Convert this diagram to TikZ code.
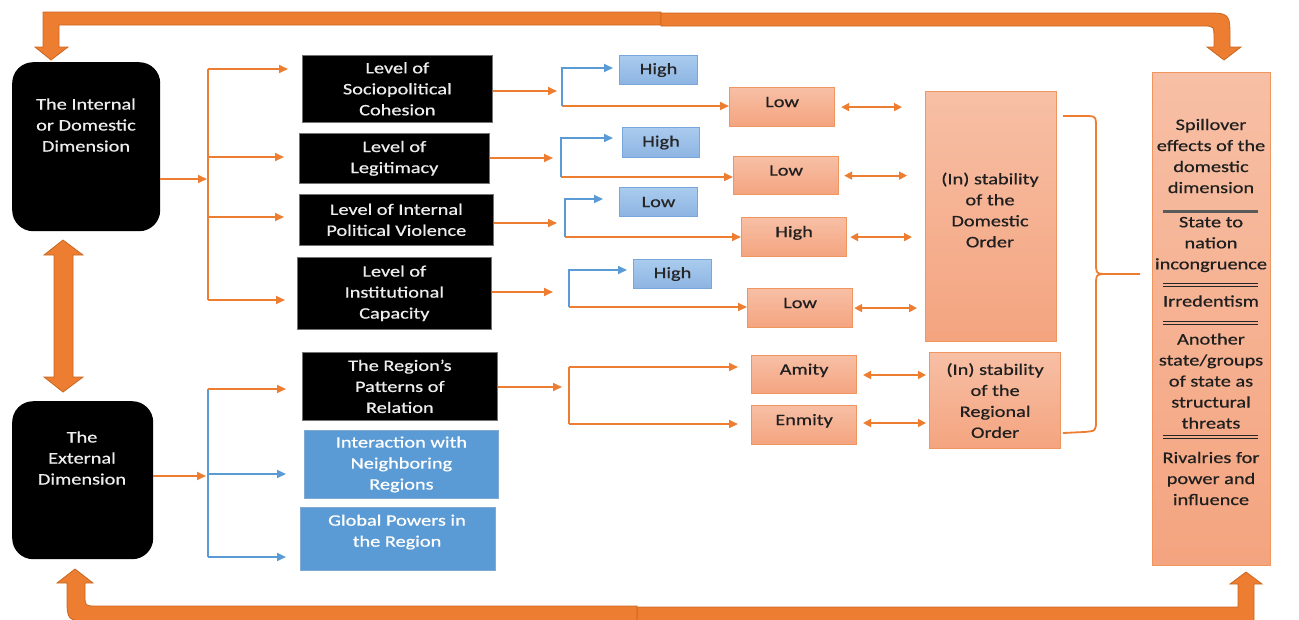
\documentclass[tikz,border=0pt]{standalone}
\usepackage{fontspec}
\setmainfont{Carlito}[FakeStretch=1.27,FakeBold=0.6]
\usetikzlibrary{arrows.meta,calc}
\definecolor{org}{HTML}{ED7D31}
\definecolor{orgD}{HTML}{C9671F}
\definecolor{blu}{HTML}{5B9BD5}
\definecolor{bluD}{HTML}{4A86C0}
\definecolor{obTop}{HTML}{F7BFA5}
\definecolor{obBot}{HTML}{F4A47F}
\definecolor{obLine}{HTML}{F0955E}
\definecolor{lbTop}{HTML}{AACBEE}
\definecolor{lbBot}{HTML}{8CB4E2}
\definecolor{lbLine}{HTML}{79A7DC}
\definecolor{wtxt}{HTML}{EDEDED}
\definecolor{sepgray}{HTML}{5A5A5A}
\begin{document}
\begin{tikzpicture}[x=1pt,y=-1pt,
  font=\fontsize{16}{21}\selectfont,
  blk/.style={draw=black!55, line width=0.7pt, fill=black, text=wtxt, align=center, inner sep=0pt, anchor=north west},
  dimbox/.style={fill=black, rounded corners=21pt, anchor=north west, inner sep=0pt},
  wtext/.style={text=wtxt, align=center, inner sep=0pt},
  dtext/.style={text=black!88, align=center, inner sep=0pt},
  obox/.style={draw=obLine, line width=1.2pt, top color=obTop, bottom color=obBot, text=black!88, align=center, anchor=north west, inner sep=0pt},
  smallo/.style={obox, text height=9pt, text depth=9pt},
  lbox/.style={draw=lbLine, line width=1pt, top color=lbTop, bottom color=lbBot, text=black!85, anchor=north west, inner sep=0pt},
  bbox/.style={draw=bluD!70, line width=0.8pt, fill=blu, text=white, align=center, anchor=north west, inner sep=0pt},
  oline/.style={draw=org, line width=1.8pt},
  bline/.style={draw=blu, line width=1.8pt},
  oarr/.style={oline, -{Triangle[length=9pt,width=8pt]}},
  barr/.style={bline, -{Triangle[length=9pt,width=8pt]}},
  odbl/.style={oline, {Triangle[length=8pt,width=8pt]}-{Triangle[length=8pt,width=8pt]}},
  thickarrow/.style={fill=org, draw=orgD, line width=0.8pt, line join=miter},
  sepline/.style={draw=black!85, line width=1pt}
]
\useasboundingbox (0,0) rectangle (1299,619);

% ---------- dimension boxes ----------
\node[dimbox, minimum width=148pt, minimum height=169pt] (int) at (12,62) {};
\node[wtext] (intt) at (86,125) {The Internal\\or Domestic\\Dimension};
\node[dimbox, minimum width=141pt, minimum height=158pt] (ext) at (12,401) {};
\node[wtext] (extt) at (82,458) {The\\External\\Dimension};

% ---------- level boxes ----------
\node[blk, minimum width=190pt, minimum height=67pt] (l1) at (302,55) {Level of\\Sociopolitical\\Cohesion};
\node[blk, minimum width=190pt, minimum height=50pt] (l2) at (299,133) {Level of\\Legitimacy};
\node[blk, minimum width=194pt, minimum height=51pt] (l3) at (299,194) {Level of Internal\\Political Violence};
\node[blk, minimum width=194pt, minimum height=72pt] (l4) at (297,257) {Level of\\Institutional\\Capacity};
\node[blk, minimum width=195pt, minimum height=68pt] (rp) at (302,352) {The Region’s\\Patterns of\\Relation};
\node[bbox, minimum width=194pt, minimum height=68pt] (nb) at (304,430) {Interaction with\\Neighboring\\Regions};
\node[bbox, minimum width=195pt, minimum height=63pt] (gp) at (300,507) {};
\node[wtext, text=white] (gpt) at (397,532) {Global Powers in\\the Region};

% ---------- high / low boxes ----------
\node[lbox, minimum width=78pt, minimum height=29pt] (h1) at (619,55) {High};
\node[lbox, minimum width=77pt, minimum height=30pt] (h2) at (622,127) {High};
\node[lbox, minimum width=78pt, minimum height=29pt] (h3) at (619,187) {Low};
\node[lbox, minimum width=78pt, minimum height=29pt] (h4) at (633,259) {High};

\node[smallo, minimum width=105pt, minimum height=39pt] (o1) at (729,87) {Low};
\node[smallo, minimum width=105pt, minimum height=38pt] (o2) at (733,156) {Low};
\node[smallo, minimum width=105pt, minimum height=39pt] (o3) at (741,217) {High};
\node[smallo, minimum width=105pt, minimum height=39pt] (o4) at (747,288) {Low};
\node[smallo, minimum width=105pt, minimum height=38pt] (am) at (751,355) {Amity};
\node[smallo, minimum width=105pt, minimum height=39pt] (en) at (751,405) {Enmity};

% ---------- order boxes ----------
\node[obox, minimum width=131pt, minimum height=250pt] (dom) at (925,91) {};
\node[dtext] (domt) at (990,210) {(In) stability\\of the\\Domestic\\Order};
\node[obox, minimum width=131pt, minimum height=96pt] (reg) at (929,352) {(In) stability\\of the\\Regional\\Order};

% ---------- spillover box ----------
\node[obox, minimum width=118pt, minimum height=493pt] (sp) at (1152,72) {};
\node[dtext] (s1) at (1211,156) {Spillover\\effects of the\\domestic\\dimension};
\node[dtext] (s2) at (1211,244.5) {State to\\nation\\incongruence};
\node[dtext] (s3) at (1211,301) {Irredentism};
\node[dtext] (s4) at (1211,381) {Another\\state/groups\\of state as\\structural\\threats};
\node[dtext] (s5) at (1211,478.5) {Rivalries for\\power and\\influence};
\draw[draw=sepgray, line width=3pt] (1163,211) -- (1258,211);
\draw[sepline] (1163,283.5) -- (1258,283.5);
\draw[sepline] (1163,286.5) -- (1258,286.5);
\draw[sepline, line width=1.4pt] (1163,321.5) -- (1258,321.5);
\draw[sepline] (1163,324.5) -- (1258,324.5);
\draw[sepline, line width=1.4pt] (1163,435.5) -- (1258,435.5);
\draw[sepline, line width=1.4pt] (1163,438.5) -- (1258,438.5);

% ---------- internal branch ----------
\coordinate (ibm) at (207,179);
\coordinate (ibt) at (208,69);
\coordinate (ibb) at (208,300);
\coordinate (ib2) at (208,157);
\coordinate (ib3) at (208,217);
\draw[oarr] (int.east |- ibm) -- (ibm);
\draw[oline] (ibt) -- (ibb);
\draw[oarr, shorten >=14pt] (ibt) -- (l1.west |- ibt);
\draw[oarr, shorten >=15pt] (ib2) -- (l2.west |- ib2);
\draw[oarr, shorten >=15pt] (ib3) -- (l3.west |- ib3);
\draw[oarr, shorten >=12pt] (ibb) -- (l4.west |- ibb);

% ---------- level -> high/low ----------
\coordinate (b1m) at (557,91);  \coordinate (b1t) at (562,68);  \coordinate (b1b) at (562,106);
\coordinate (b2m) at (553,158); \coordinate (b2t) at (561,138); \coordinate (b2b) at (561,177);
\coordinate (b3m) at (557,223); \coordinate (b3t) at (565,199); \coordinate (b3b) at (565,237);
\coordinate (b4m) at (553,292); \coordinate (b4t) at (569,270); \coordinate (b4b) at (569,307);

\draw[oarr] (l1.east |- b1m) -- (b1m);
\draw[oarr] (l2.east |- b2m) -- (b2m);
\draw[oarr] (l3.east |- b3m) -- (b3m);
\draw[oarr] (l4.east |- b4m) -- (b4m);

\draw[oarr] (b1b) -- (o1.west |- b1b);
\draw[oarr] (b2b) -- (o2.west |- b2b);
\draw[oarr] (b3b) -- (o3.west |- b3b);
\draw[oarr] (b4b) -- (o4.west |- b4b);

\draw[barr, shorten >=6pt] (b1b) -- (b1t) -- (h1.west |- b1t);
\draw[barr, shorten >=9pt] (b2b) -- (b2t) -- (h2.west |- b2t);
\draw[barr, shorten >=16pt] (b3b) -- (b3t) -- (h3.west |- b3t);
\draw[barr, shorten >=6pt] (b4b) -- (b4t) -- (h4.west |- b4t);

\draw[odbl, shorten <=6pt, shorten >=23pt] (o1.east) -- (dom.west |- o1.east);
\draw[odbl, shorten <=5pt, shorten >=18pt] (o2.east) -- (dom.west |- o2.east);
\draw[odbl, shorten <=3pt, shorten >=13pt] (o3.east) -- (dom.west |- o3.east);
\draw[odbl, shorten <=1pt, shorten >=8pt] (o4.east) -- (dom.west |- o4.east);

% ---------- external branch ----------
\coordinate (ebm) at (206,476);
\coordinate (ebt) at (208,389);
\coordinate (ebn) at (208,474);
\coordinate (ebb) at (208,557);
\draw[oarr] (ext.east |- ebm) -- (ebm);
\draw[bline] (ebt) -- (ebb);
\draw[oarr, shorten >=16pt] (ebt) -- (rp.west |- ebt);
\draw[barr, shorten >=18pt] (ebn) -- (nb.west |- ebn);
\draw[barr, shorten >=14pt] (ebb) -- (gp.west |- ebb);

% ---------- regional branch ----------
\coordinate (rbm) at (562,387);
\coordinate (rbt) at (569,367);
\coordinate (rbb) at (569,424);
\draw[oarr] (rp.east |- rbm) -- (rbm);
\draw[oline] (rbt) -- (rbb);
\draw[oarr, shorten >=13pt] (rbt) -- (am.west |- rbt);
\draw[oarr, shorten >=13pt] (rbb) -- (en.west |- rbb);
\coordinate (amr) at (856,375);
\coordinate (enr) at (856,423);
\draw[odbl, shorten <=7pt, shorten >=3pt] (amr) -- (reg.west |- amr);
\draw[odbl, shorten <=7pt, shorten >=3pt] (enr) -- (reg.west |- enr);

% ---------- curly brace ----------
\coordinate (brt) at (1063,116);
\coordinate (brb) at (1063,433);
\coordinate (brtip) at (1140,274);
\draw[oline, line join=round]
  (brt) -- (1084,116) .. controls (1096,116) .. (1096,128) -- (1096,262)
  .. controls (1096,274) .. (1108,274) -- (brtip);
\draw[oline, line join=round]
  (1108,274) .. controls (1096,274) .. (1096,286) -- (1096,420)
  .. controls (1096,431) .. (1084,432) -- (brb);

% ---------- thick block arrows ----------
\draw[thickarrow] (661,12) -- (43,12) -- (43,47) -- (35,47) -- (51,60) -- (68,47) -- (59,47) -- (59,25) -- (661,25) -- cycle;
\draw[thickarrow] (661,13) -- (1204,13) .. controls (1230,13) .. (1230,39) -- (1230,47) -- (1241,47)
  -- (1224,60) -- (1207,47) -- (1214,47) -- (1214,39) .. controls (1214,26) .. (1203,26) -- (661,26) -- cycle;
\draw[thickarrow] (637,607) -- (1238,607) -- (1238,584) -- (1230,584) -- (1246,572) -- (1262,584)
  -- (1254,584) -- (1254,624) -- (637,624) -- cycle;
\draw[thickarrow] (637,606) -- (96,606) .. controls (85,606) .. (85,595) -- (85,583) -- (93,583)
  -- (75,569) -- (57,583) -- (67,583) -- (67,597) .. controls (67,621) .. (92,621) -- (637,621) -- cycle;
\draw[thickarrow] (63,240) -- (83,255) -- (73,255) -- (73,377) -- (83,377) -- (63,392) -- (44,377)
  -- (54,377) -- (54,255) -- (44,255) -- cycle;
\end{tikzpicture}
\end{document}
